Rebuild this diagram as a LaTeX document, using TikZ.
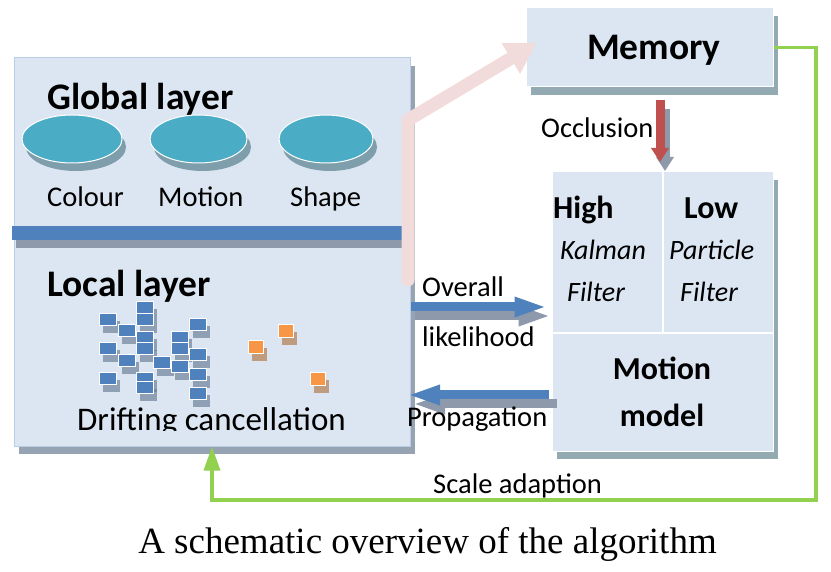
\documentclass[tikz,border=0pt]{standalone}
\usepackage{fontspec}
\setmainfont{Carlito}
\newfontfamily\captionfont{Liberation Serif}
\usetikzlibrary{positioning,arrows.meta,shadows,shapes.geometric}

\definecolor{boxfill}{HTML}{DCE6F2}
\definecolor{boxline}{HTML}{B9CDE5}
\definecolor{boxshade}{HTML}{95A3B3}
\definecolor{tealshade}{HTML}{93AAB2}
\definecolor{barblue}{HTML}{4F81BD}
\definecolor{cyanfill}{HTML}{4BACC6}
\definecolor{cyanshade}{HTML}{7E9EAC}
\definecolor{pinkarrow}{HTML}{F2DCDB}
\definecolor{redarrow}{HTML}{C0504D}
\definecolor{greenline}{HTML}{92D050}
\definecolor{orangefill}{HTML}{F79646}
\definecolor{orangeshade}{HTML}{BF9B80}
\definecolor{arrowshade}{HTML}{8E9AAB}
\definecolor{squareshade}{HTML}{6F819A}

\begin{document}
\begin{tikzpicture}[x=1pt,y=-1pt,
        panel/.style={draw=boxline, line width=1pt, fill=boxfill, inner sep=0pt,
            drop shadow={shadow xshift=5pt, shadow yshift=-8pt, fill=boxshade, opacity=1}},
        tealpanel/.style={panel, draw=white,
            drop shadow={shadow xshift=5pt, shadow yshift=-8pt, fill=tealshade, opacity=1}},
        disc/.style={ellipse, draw=white, line width=1pt, fill=cyanfill, inner sep=0pt,
            drop shadow={shadow xshift=4pt, shadow yshift=-8pt, fill=cyanshade, opacity=1}},
        every label text/.style={inner sep=0pt, anchor=base west},
        headtext/.style={every label text, font=\bfseries\fontsize{37.5}{44}\selectfont},
        bodytext/.style={every label text, font=\fontsize{28.5}{34}\selectfont},
        boxtext/.style={every label text, font=\bfseries\fontsize{32}{38}\selectfont},
        filtertext/.style={every label text, font=\itshape\fontsize{28}{34}\selectfont},
        captext/.style={inner sep=0pt, anchor=base, font=\captionfont\fontsize{37}{42}\selectfont},
        bluearrow/.style={line width=9pt, draw=barblue, -{Triangle[width=18pt,length=33pt]}},
        shadearrow/.style={bluearrow, draw=arrowshade}
    ]
    \useasboundingbox (0,0) rectangle (831,572);

    \node[panel, minimum width=396pt, minimum height=388pt] (layers) at (212,252) {};
    \node[tealpanel, minimum width=247pt, minimum height=79pt] (memory) at (649.5,47.5) {};
    \node[tealpanel, minimum width=221pt, minimum height=279pt] (motion) at (662.5,311.5) {};

    \node[disc, minimum width=100pt, minimum height=48pt] (colourdisc) at (72,139) {};
    \node[disc, minimum width=97pt, minimum height=48pt] (motiondisc) at (198.5,139) {};
    \node[disc, minimum width=94pt, minimum height=48pt] (shapedisc) at (326,139) {};

    \fill[arrowshade] (16,240) rectangle (402,248);
    \fill[barblue] (12,226) rectangle (402,240);

    \foreach \sx/\sy in {99/313, 136/301, 136/313, 118/324, 136/331, 189/318, 171/331,
            99/342, 136/342, 171/342, 118/354, 189/348, 153/356, 171/360, 189/368,
            99/372, 136/372, 136/381, 189/387} {
        \fill[squareshade, opacity=.7] (\sx+4,\sy+8) rectangle ++(17,12);
        \draw[white, fill=barblue, line width=.8pt] (\sx,\sy) rectangle ++(17,12);
    }
    \foreach \sx/\sy in {248/340, 278/324, 310/372} {
        \fill[orangeshade] (\sx+4,\sy+8) rectangle ++(15,13);
        \draw[white, fill=orangefill, line width=.8pt] (\sx,\sy) rectangle ++(15,13);
    }

    \node[headtext] (global) at (47,110) {Global layer};
    \node[bodytext] (colour) at (47,207) {Colour};
    \node[bodytext] (motionlabel) at (158,207) {Motion};
    \node[bodytext] (shape) at (290,207) {Shape};
    \node[headtext] (local) at (47,297) {Local layer};
    \begin{scope}
        \clip (14,300) rectangle (410,430);
        \node[every label text, font=\fontsize{33}{39}\selectfont] (drift) at (77,430) {Drifting cancellation};
    \end{scope}

    \coordinate (pinkstart) at (408,280);
    \coordinate (pinkbend) at (408,120);
    \draw[line width=13pt, pinkarrow, line cap=round, line join=round,
        -{Triangle[width=34pt,length=30pt]}] (pinkstart) -- (pinkbend) -- ([xshift=11pt,yshift=4.5pt]memory.west);

    \node[headtext, anchor=base] (memlabel) at (654,60) {Memory};
    \node[bodytext] (occlusion) at (541,138) {Occlusion};

    \draw[white, line width=2pt] (motion.west |- 0,333) -- (motion.east |- 0,333);
    \draw[white, line width=2pt] ([xshift=.5pt]motion.north) -- ([xshift=.5pt]motion.north |- 0,333);

    \coordinate (occtop) at (660,100);
    \coordinate (occtip) at (660,162);
    \draw[line width=9pt, arrowshade, -{Triangle[width=17pt,length=14pt]}] ([shift={(5,9)}]occtop) -- ([shift={(5,9)}]occtip);
    \draw[line width=9pt, redarrow, -{Triangle[width=17pt,length=14pt]}] (occtop) -- (occtip);

    \node[boxtext] (high) at (553,219) {High};
    \node[boxtext] (low) at (684,219) {Low};
    \node[filtertext] (kalman) at (560,260) {Kalman};
    \node[filtertext] (kfilter) at (567,302) {Filter};
    \node[filtertext] (particle) at (669,260) {Particle};
    \node[filtertext] (pfilter) at (680,302) {Filter};
    \node[boxtext, anchor=base] (motiontitle) at (662,380) {Motion};
    \node[boxtext, anchor=base] (modeltitle) at (662,427) {model};

    \coordinate (ovtip) at ([xshift=-4pt,yshift=4.5pt]motion.west);
    \coordinate (prtip) at (407,395);
    \draw[shadearrow] ([shift={(4,9)}]layers.east |- ovtip) -- ([shift={(4,9)}]ovtip);
    \draw[bluearrow] (layers.east |- ovtip) -- (ovtip);
    \draw[shadearrow] ([shift={(5,9)}]motion.west |- prtip) -- ([shift={(5,9)}]prtip);
    \draw[bluearrow] ([xshift=-3pt]motion.west |- prtip) -- (prtip);
    \node[bodytext] (overall) at (422,297) {Overall};
    \node[bodytext] (likelihood) at (422,347) {likelihood};
    \node[bodytext] (propagation) at (407,427) {Propagation};

    \coordinate (greencorner) at (816,500);
    \draw[line width=3.5pt, greenline, -{Triangle[width=16pt,length=24pt]}] (memory.east) -| (greencorner) -| (layers.south);
    \node[bodytext] (scale) at (433,493) {Scale adaption};

    \node[captext] (caption) at (427.5,553) {A schematic overview of the algorithm};
\end{tikzpicture}
\end{document}
